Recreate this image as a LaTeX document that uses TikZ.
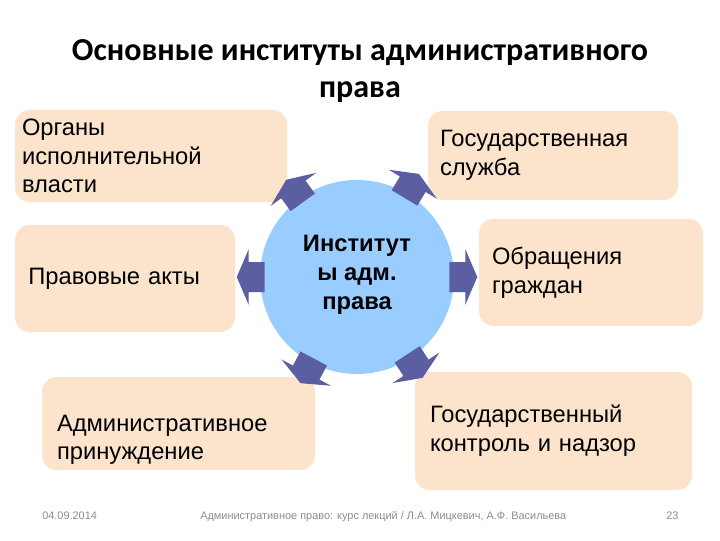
\documentclass[tikz,border=0pt]{standalone}
\usepackage{fontspec}
\setmainfont{Liberation Sans}
\newfontfamily\titlefont{Carlito}
\definecolor{peach}{RGB}{252,228,204}
\definecolor{circblue}{RGB}{153,204,255}
\definecolor{arrowcol}{RGB}{91,94,160}
\definecolor{footgray}{RGB}{140,140,140}
\begin{document}
\begin{tikzpicture}[x=0.75pt,y=0.75pt,
  box/.style={fill=peach, draw=none, rounded corners=11pt, align=left,
    font=\fontsize{17.8}{21.6}\selectfont, anchor=center, inner ysep=0pt},
  blockarrow/.style={fill=arrowcol, draw=none},
  foot/.style={font=\fontsize{8.2}{9}\selectfont, text=footgray, anchor=base west, inner sep=0pt}]
\useasboundingbox (0,0) rectangle (720,540);
% title
\node[font=\titlefont\bfseries\fontsize{24}{28}\selectfont, align=center, anchor=center] (title) at (360,469)
  {Основные институты административного\\права};
% boxes
\node[box, minimum width=204pt, minimum height=69pt, text width=193.5pt, inner xsep=5.25pt] (b1) at (151,384)
  {Органы\\исполнительной\\власти};
\node[box, minimum width=187.5pt, minimum height=66.75pt, text width=169.5pt, inner xsep=9pt] (b2) at (553,384.5)
  {Государственная\\служба};
\node[box, minimum width=165pt, minimum height=80.25pt, text width=145pt, inner xsep=10pt] (b3) at (125,261.5)
  {Правовые акты};
\node[box, minimum width=168pt, minimum height=80.25pt, text width=148.5pt, inner xsep=9.75pt] (b4) at (591,267.5)
  {Обращения\\граждан};
\node[box, minimum width=204.75pt, minimum height=69.75pt, text width=182.25pt, inner xsep=11.25pt, text depth=0pt] (b5) at (178.5,116.5)
  {\raisebox{-10pt}{\parbox{182.25pt}{Административное\\принуждение}}};
\node[box, minimum width=207.75pt, minimum height=88.5pt, text width=185.25pt, inner xsep=11.25pt] (b6) at (553.5,109)
  {Государственный\\контроль и надзор};
% circle
\node[circle, fill=circblue, draw=none, minimum size=145.5pt, inner sep=0pt] (c) at (357,263) {};
\node[font=\bfseries\fontsize{17.8}{21.8}\selectfont, align=center] (ct) at (357,265) {Институт\\ы адм.\\права};
% block arrows
\foreach \a in {126,59,180,0,242,-57}{
  \fill[blockarrow, shift={(c.\a)}, rotate=\a]
    (-5,-15) -- (11,-15) -- (11,-28) -- (23,0) -- (11,28) -- (11,15) -- (-5,15) -- cycle;
}
% footer
\node[foot] (date) at (42,21) {04.09.2014};
\node[foot] (src) at (200,21) {Административное право: курс лекций / Л.А. Мицкевич, А.Ф. Васильева};
\node[foot] (page) at (666,21) {23};
\end{tikzpicture}
\end{document}
